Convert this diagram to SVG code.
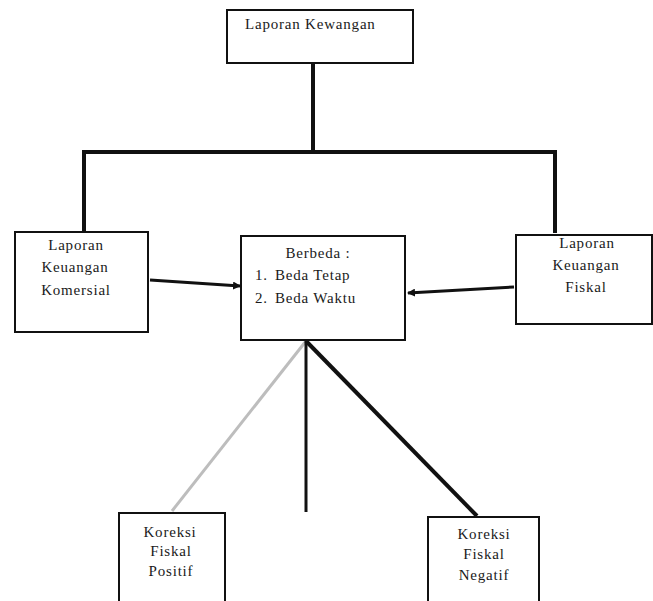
<svg xmlns="http://www.w3.org/2000/svg" width="653" height="601" viewBox="0 0 653 601">
<style>
.box{fill:#fff;stroke:#111;stroke-width:2}
.t{font-family:'Liberation Serif','Times New Roman',serif;font-size:15px;letter-spacing:0.8px;fill:#1a1a1a}
.c{text-anchor:middle}
.ln{stroke:#111;stroke-width:4;fill:none;stroke-linecap:square}
.ar{stroke:#111;stroke-width:3;fill:none}
</style>
<defs>
<marker id="ah" markerWidth="8" markerHeight="8" refX="7" refY="4" orient="auto" markerUnits="userSpaceOnUse">
<path d="M0,0 L8,4 L0,8 Z" fill="#111"/>
</marker>
</defs>
<rect width="653" height="601" fill="#fff"/>
<g id="connectors">
<line class="ln" x1="313" y1="64" x2="313" y2="152"/>
<line class="ln" x1="84" y1="152" x2="555" y2="152"/>
<line class="ln" x1="84" y1="152" x2="84" y2="231"/>
<line class="ln" x1="555" y1="152" x2="555" y2="231"/>
<line class="ar" x1="150" y1="280" x2="240" y2="286" marker-end="url(#ah)"/>
<line class="ar" x1="514" y1="287" x2="408" y2="293" marker-end="url(#ah)"/>
<line x1="306" y1="341" x2="172" y2="511" stroke="#bdbdbd" stroke-width="3"/>
<line x1="306" y1="341" x2="306" y2="512" stroke="#111" stroke-width="3"/>
<line x1="306" y1="341" x2="477" y2="516" stroke="#111" stroke-width="4"/>
</g>
<g id="node-top">
<rect class="box" x="227" y="10" width="186" height="53"/>
<text class="t" x="245" y="29">Laporan Kewangan</text>
</g>
<g id="node-komersial">
<rect class="box" x="15" y="232" width="133" height="100"/>
<text class="t c" x="76" y="250">Laporan</text>
<text class="t c" x="75" y="272">Keuangan</text>
<text class="t c" x="76" y="295">Komersial</text>
</g>
<g id="node-berbeda">
<rect class="box" x="241" y="236" width="164" height="104"/>
<text class="t c" x="318" y="258">Berbeda :</text>
<text class="t" x="255" y="280">1.</text>
<text class="t" x="275" y="280">Beda Tetap</text>
<text class="t" x="255" y="303">2.</text>
<text class="t" x="275" y="303">Beda Waktu</text>
</g>
<g id="node-fiskal">
<rect class="box" x="516" y="235" width="136" height="89"/>
<text class="t c" x="587" y="248">Laporan</text>
<text class="t c" x="586" y="270">Keuangan</text>
<text class="t c" x="586" y="292">Fiskal</text>
</g>
<g id="node-positif">
<rect class="box" x="119" y="513" width="106" height="100"/>
<text class="t c" x="170" y="537">Koreksi</text>
<text class="t c" x="171" y="556">Fiskal</text>
<text class="t c" x="171" y="576">Positif</text>
</g>
<g id="node-negatif">
<rect class="box" x="428" y="517" width="111" height="100"/>
<text class="t c" x="484" y="539">Koreksi</text>
<text class="t c" x="484" y="559">Fiskal</text>
<text class="t c" x="484" y="580">Negatif</text>
</g>
</svg>
